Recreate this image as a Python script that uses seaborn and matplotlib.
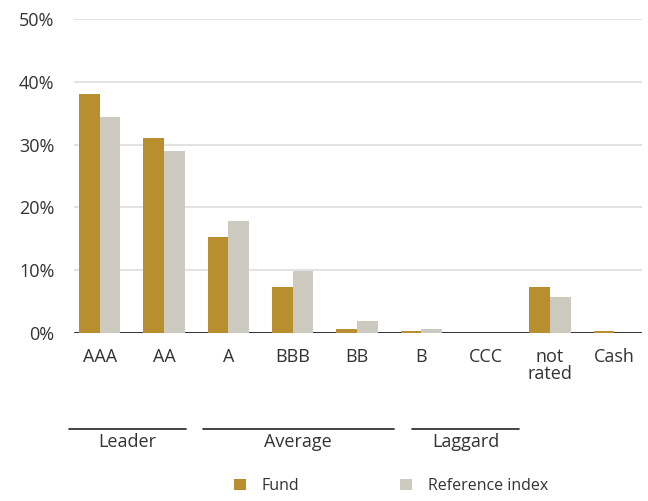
import matplotlib
matplotlib.use("Agg")
import matplotlib.pyplot as plt
import matplotlib.transforms as mtransforms
import pandas as pd
import seaborn as sns

# Data
categories = ["AAA", "AA", "A", "BBB", "BB", "B", "CCC", "not\nrated", "Cash"]
fund = [38.0, 31.0, 15.3, 7.3, 0.6, 0.3, 0.0, 7.3, 0.3]
reference_index = [34.4, 29.0, 17.8, 9.9, 1.9, 0.6, 0.0, 5.7, 0.0]
series_names = ["Fund", "Reference index"]
groups = ["Leader", "Average", "Laggard"]
yticks = [0, 10, 20, 30, 40, 50]

colors = ["#B98E2F", "#CCCABE"]

df = pd.DataFrame({
    "category": categories * 2,
    "value": fund + reference_index,
    "series": [series_names[0]] * len(categories) + [series_names[1]] * len(categories),
})

sns.set_style("white")
plt.rcParams["font.family"] = ["Open Sans", "DejaVu Sans"]

fig = plt.figure(figsize=(6.48, 5.01), dpi=100)
ax = fig.add_axes([74 / 648, 1 - 333 / 501, (642 - 74) / 648, (333 - 19) / 501])

sns.barplot(data=df, x="category", y="value", hue="series", palette=colors,
            width=0.64, saturation=1, ax=ax, errorbar=None, linewidth=0, zorder=3)

ax.set_ylim(0, 50)
ax.set_xlim(-0.4, 8.43)
ax.set_yticks(yticks)
ax.set_yticklabels([f"{t}%" for t in yticks])
ax.set_xlabel("")
ax.set_ylabel("")
ax.yaxis.grid(True, color="#dddddd", linewidth=1.2)
ax.set_axisbelow(True)
for s in ["top", "right", "left", "bottom"]:
    ax.spines[s].set_visible(False)
ax.axhline(0, color="#222222", linewidth=2, zorder=2)
ax.tick_params(axis="y", length=0, pad=14, labelsize=13, labelcolor="#333333")
ax.tick_params(axis="x", length=0, pad=11, labelsize=13, labelcolor="#333333")
for lbl in ax.get_xticklabels():
    lbl.set_linespacing(0.9)

# rating group brackets below the axis
trans = mtransforms.blended_transform_factory(ax.transData, fig.transFigure)
spans = [(-0.47, 1.34), (1.6, 4.57), (4.85, 6.52)]
line_y = 1 - 429 / 501
for name, (x0, x1) in zip(groups, spans):
    ax.plot([x0, x1], [line_y, line_y], transform=trans, color="#222222",
            linewidth=1.2, clip_on=False)
    ax.text((x0 + x1) / 2, line_y - 0.008, name, transform=trans, ha="center",
            va="top", fontsize=13, color="#333333")

handles, labels = ax.get_legend_handles_labels()
ax.legend_.remove()
fig.legend(handles, labels, loc="center", bbox_to_anchor=(0.603, 1 - 486 / 501),
           ncol=2, frameon=False, fontsize=11.5, handlelength=0.75, handleheight=0.75,
           handletextpad=1.0, columnspacing=6.3, labelcolor="#333333")

fig.savefig("out.png", dpi=100)
